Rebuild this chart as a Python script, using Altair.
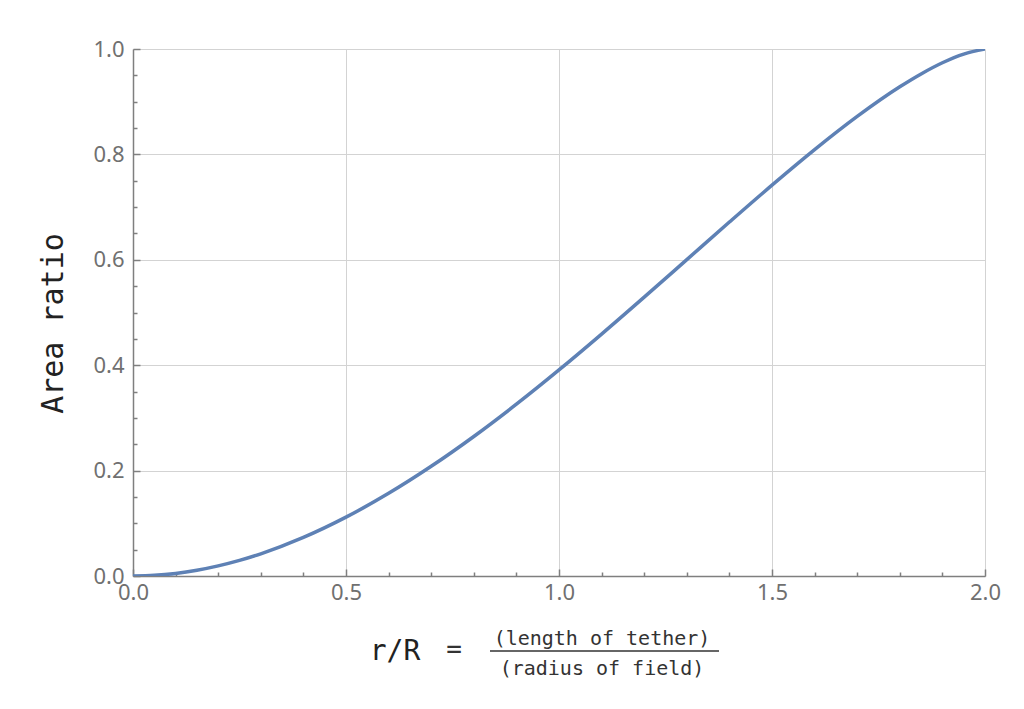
import altair as alt
import pandas as pd

# ---- data ----
r_values = [0.0, 0.05, 0.1, 0.15, 0.2, 0.25, 0.3, 0.4, 0.5, 0.6, 0.7, 0.8, 0.9,
            1.0, 1.1, 1.2, 1.3, 1.4, 1.5, 1.6, 1.7, 1.8, 1.85, 1.9, 1.95, 2.0]
area_ratio = [0.0, 0.00124, 0.00489, 0.01089, 0.01915, 0.02959, 0.04213, 0.07318,
              0.11165, 0.15687, 0.20814, 0.26476, 0.32597, 0.39100, 0.45902,
              0.52913, 0.60035, 0.67162, 0.74170, 0.80913, 0.87211, 0.92832,
              0.95273, 0.97391, 0.99037, 1.0]

x_major = [0.0, 0.5, 1.0, 1.5, 2.0]
x_minor = [0.1, 0.2, 0.3, 0.4, 0.6, 0.7, 0.8, 0.9, 1.1, 1.2, 1.3, 1.4,
           1.6, 1.7, 1.8, 1.9]
y_major = [0.0, 0.2, 0.4, 0.6, 0.8, 1.0]
y_minor = [0.05, 0.1, 0.15, 0.25, 0.3, 0.35, 0.45, 0.5, 0.55, 0.65, 0.7,
           0.75, 0.85, 0.9, 0.95]

y_title = "Area ratio"
x_title_left = "r/R"
x_title_eq = "="
x_title_num = "(length of tether)"
x_title_den = "(radius of field)"

df = pd.DataFrame({"r": r_values, "ratio": area_ratio})

W, H = 852, 527
AX = "#7f7f7f"
LBL = "#707070"
GRID = "#d3d3d3"
MONO = "DejaVu Sans Mono"

xs = alt.Scale(domain=[0, 2], nice=False, zero=False)
ys = alt.Scale(domain=[0, 1], nice=False, zero=False)

base = alt.Chart(df)

curve = base.mark_line(color="#5E81B5", strokeWidth=3.5, interpolate="monotone", clip=True).encode(
    x=alt.X("r:Q", scale=xs, axis=alt.Axis(
        values=x_major, format=".1f", title=None, grid=True, gridColor=GRID, gridWidth=1,
        ticks=False, domain=True, domainColor=AX, domainWidth=1.5,
        labelFont="Noto Sans", labelFontSize=22, labelColor=LBL, labelPadding=6,
        labelFlush=False)),
    y=alt.Y("ratio:Q", scale=ys, axis=alt.Axis(
        values=y_major, format=".1f", title=None, grid=True, gridColor=GRID, gridWidth=1,
        ticks=False, domain=True, domainColor=AX, domainWidth=1.5,
        labelFont="Noto Sans", labelFontSize=22, labelColor=LBL, labelPadding=9,
        labelFlush=False)),
)


def tick_layer(xv, yv, size):
    return base.mark_line(opacity=0).encode(
        x=alt.X("r:Q", scale=xs, axis=alt.Axis(
            orient="top", offset=-H, values=xv, labels=False, domain=False, grid=False,
            ticks=True, tickSize=size, tickWidth=1.5, tickColor=AX, title=None)),
        y=alt.Y("ratio:Q", scale=ys, axis=alt.Axis(
            orient="right", offset=-W, values=yv, labels=False, domain=False, grid=False,
            ticks=True, tickSize=size, tickWidth=1.5, tickColor=AX, title=None)),
    )


major_ticks = tick_layer(x_major, y_major, 7)
minor_ticks = tick_layer(x_minor, y_minor, 4)


def text_layer(txt, x, y, size, color="#222222", angle=0, font=MONO):
    return alt.Chart(pd.DataFrame({"t": [txt]})).mark_text(
        font=font, fontSize=size, color=color, angle=angle,
        align="center", baseline="alphabetic"
    ).encode(x=alt.value(x), y=alt.value(y), text="t:N")


ytitle = text_layer(y_title, -70, 274.5, 30, angle=270)
rlabel = text_layer(x_title_left, 262, 611, 28)
eqlabel = text_layer(x_title_eq, 321, 609, 26, color="#333333")
numlabel = text_layer(x_title_num, 469, 596, 20, color="#333333")
denlabel = text_layer(x_title_den, 469, 626, 20, color="#333333")

frac_rule = alt.Chart(pd.DataFrame({"k": [0]})).mark_rule(
    color="#333333", strokeWidth=1.5
).encode(x=alt.value(357), x2=alt.value(586), y=alt.value(602))

chart = alt.layer(
    curve, major_ticks, minor_ticks, ytitle, rlabel, eqlabel, numlabel, denlabel, frac_rule
).resolve_axis(x="independent", y="independent").properties(
    width=W, height=H,
    autosize=alt.AutoSizeParams(type="none"),
    padding={"left": 125, "top": 41, "right": 25, "bottom": 130},
).configure_view(stroke=None)

chart.save("out.html", embed_options={"renderer": "svg", "actions": False})
